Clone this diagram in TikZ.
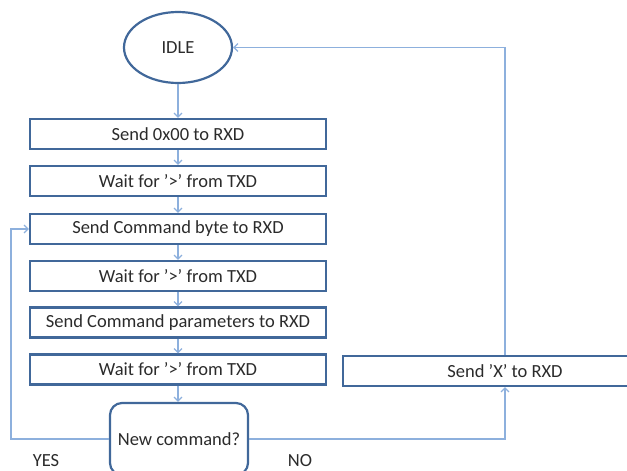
\documentclass[tikz,border=0pt]{standalone}
\usepackage{fontspec}
\setmainfont{Carlito}
\usetikzlibrary{arrows.meta,shapes.geometric}
\definecolor{boxblue}{HTML}{41689A}
\definecolor{lineblue}{HTML}{8DB0DD}
\definecolor{txt}{HTML}{2B2B2B}
\begin{document}
\begin{tikzpicture}[x=1pt,y=-1pt,
  proc/.style={draw=boxblue,line width=2.2pt,minimum width=296pt,minimum height=30pt,inner sep=0pt,font=\fontsize{18.5}{20}\selectfont,text=txt},
  conn/.style={draw=lineblue,line width=1.2pt,-{Straight Barb[length=4pt,width=8pt]}},
  lbl/.style={font=\fontsize{18.5}{20}\selectfont,text=txt,inner sep=0pt}]
\useasboundingbox (0,0) rectangle (627,471);
\clip (0,0) rectangle (627,471);
\node[ellipse,draw=boxblue,line width=2.2pt,minimum width=108pt,minimum height=71pt,inner sep=0pt,font=\fontsize{18.5}{20}\selectfont,text=txt] (idle) at (178,47.5) {IDLE};
\node[proc] (b1) at (178,134) {Send 0x00 to RXD};
\node[proc] (b2) at (178,181) {Wait for ’>’ from TXD};
\node[proc] (b3) at (178,229) {Send Command byte to RXD};
\node[proc] (b4) at (178,276) {Wait for ’>’ from TXD};
\node[proc] (b5) at (178,322.5) {Send Command parameters to RXD};
\node[proc] (b6) at (178,369.5) {Wait for ’>’ from TXD};
\node[proc,minimum width=138pt,minimum height=72pt,rounded corners=12pt] (dec) at (179,439) {New command?};
\node[proc,minimum width=324pt] (sx) at (505,371) {Send ’X’ to RXD};
\node[lbl] (yes) at (46,461) {YES};
\node[lbl] (no) at (300,461) {NO};
\draw[conn] (idle) -- (b1);
\draw[conn] (b1) -- (b2);
\draw[conn] (b2) -- (b3);
\draw[conn] (b3) -- (b4);
\draw[conn] (b4) -- (b5);
\draw[conn] (b5) -- (b6);
\draw[conn] (b6.south -| idle.south) -- (dec.north -| idle.south);
\draw[conn] (dec.west) -- ++(-98,0) |- (b3.west);
\draw[conn] (dec.east) -| (sx.south);
\draw[conn] (sx.north) |- (idle.east);
\end{tikzpicture}
\end{document}
